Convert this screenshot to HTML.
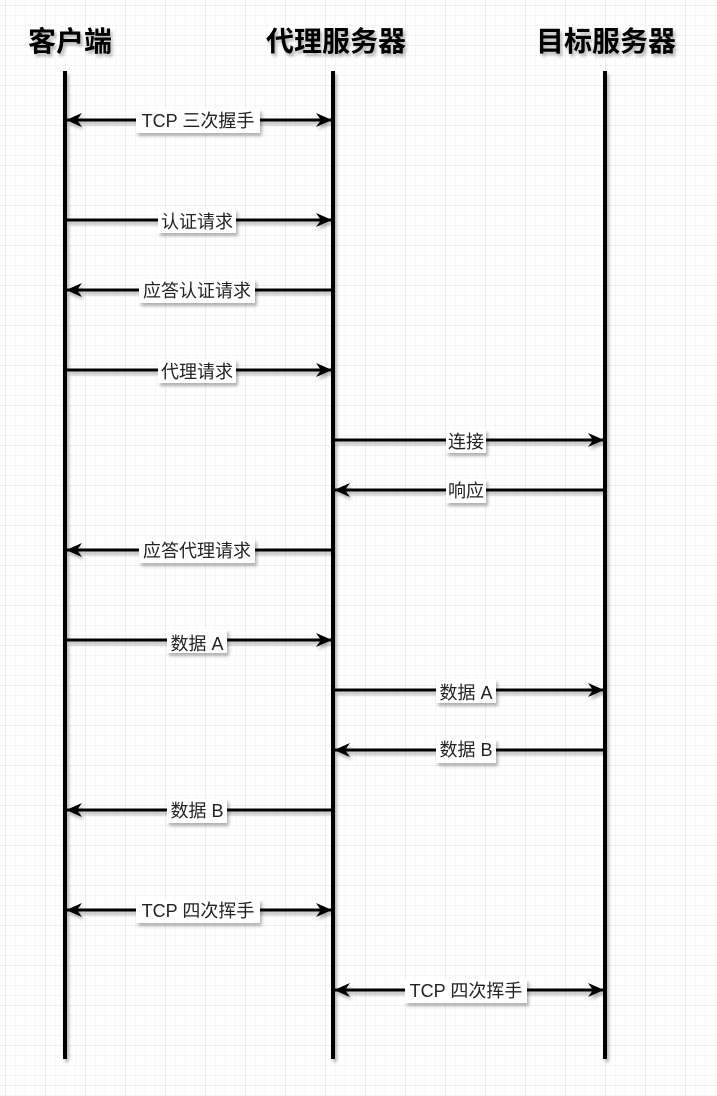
<!DOCTYPE html>
<html><head><meta charset="utf-8"><style>
html,body{margin:0;padding:0;background:#fff}
svg{display:block}
text{font-family:"Liberation Sans","Noto Sans CJK SC",sans-serif}
</style></head><body>
<svg width="717" height="1096" xmlns="http://www.w3.org/2000/svg">
<defs>
<pattern id="g" x="6" y="6" width="10" height="10" patternUnits="userSpaceOnUse">
<path d="M10 0V10M0 10H10" stroke="#ececec" stroke-width="1" fill="none"/>
</pattern>
<pattern id="G" x="6" y="6" width="40" height="40" patternUnits="userSpaceOnUse">
<path d="M40 0V40M0 40H40" stroke="#dedede" stroke-width="1" fill="none"/>
</pattern>
<marker id="a" viewBox="0 0 16 14" refX="15" refY="7" markerWidth="16" markerHeight="14" markerUnits="userSpaceOnUse" orient="auto-start-reverse">
<path d="M0 0L16 7L0 14L5 7Z" fill="#000"/>
</marker>
<filter id="s" x="-10%" y="-10%" width="130%" height="140%"><feDropShadow dx="2" dy="3" stdDeviation="1.5" flood-color="#000" flood-opacity="0.3"/></filter>
</defs>
<rect width="717" height="1096" fill="url(#g)"/>
<rect width="717" height="1096" fill="url(#G)"/>
<g font-size="28" font-weight="bold" text-anchor="middle" filter="url(#s)">
<text x="70" y="51">客户端</text>
<text x="336" y="51">代理服务器</text>
<text x="606" y="51">目标服务器</text>
</g>
<g stroke="#000" stroke-width="4" filter="url(#s)">
<line x1="65" y1="71" x2="65" y2="1059"/>
<line x1="333" y1="71" x2="333" y2="1059"/>
<line x1="605" y1="71" x2="605" y2="1059"/>
</g>
<g stroke="#000" stroke-width="3" filter="url(#s)">
<line x1="67" y1="120" x2="331" y2="120" marker-start="url(#a)" marker-end="url(#a)"/>
<line x1="67" y1="220" x2="331" y2="220" marker-end="url(#a)"/>
<line x1="331" y1="290" x2="67" y2="290" marker-end="url(#a)"/>
<line x1="67" y1="370" x2="331" y2="370" marker-end="url(#a)"/>
<line x1="335" y1="440" x2="603" y2="440" marker-end="url(#a)"/>
<line x1="603" y1="490" x2="335" y2="490" marker-end="url(#a)"/>
<line x1="331" y1="550" x2="67" y2="550" marker-end="url(#a)"/>
<line x1="67" y1="640" x2="331" y2="640" marker-end="url(#a)"/>
<line x1="335" y1="690" x2="603" y2="690" marker-end="url(#a)"/>
<line x1="603" y1="750" x2="335" y2="750" marker-end="url(#a)"/>
<line x1="331" y1="810" x2="67" y2="810" marker-end="url(#a)"/>
<line x1="67" y1="910" x2="331" y2="910" marker-start="url(#a)" marker-end="url(#a)"/>
<line x1="335" y1="990" x2="603" y2="990" marker-start="url(#a)" marker-end="url(#a)"/>
</g>
<g font-size="18" text-anchor="middle" fill="#222">
<g fill="#fff" filter="url(#s)">
<rect x="136" y="109" width="124" height="24"/>
<rect x="158" y="209" width="78" height="24"/>
<rect x="139" y="279" width="116" height="24"/>
<rect x="158" y="359" width="78" height="24"/>
<rect x="446" y="429" width="40" height="24"/>
<rect x="446" y="479" width="40" height="24"/>
<rect x="139" y="539" width="116" height="24"/>
<rect x="167" y="629" width="60" height="24"/>
<rect x="436" y="679" width="60" height="24"/>
<rect x="436" y="739" width="60" height="24"/>
<rect x="167" y="799" width="60" height="24"/>
<rect x="136" y="899" width="124" height="24"/>
<rect x="405" y="979" width="122" height="24"/>
</g>
<text x="198" y="127">TCP 三次握手</text>
<text x="197" y="228">认证请求</text>
<text x="197" y="297">应答认证请求</text>
<text x="197" y="378">代理请求</text>
<text x="466" y="448">连接</text>
<text x="466" y="497">响应</text>
<text x="197" y="557">应答代理请求</text>
<text x="197" y="650">数据 A</text>
<text x="466" y="699">数据 A</text>
<text x="466" y="756">数据 B</text>
<text x="197" y="817">数据 B</text>
<text x="198" y="917">TCP 四次挥手</text>
<text x="466" y="997">TCP 四次挥手</text>
</g>
</svg>
</body></html>
